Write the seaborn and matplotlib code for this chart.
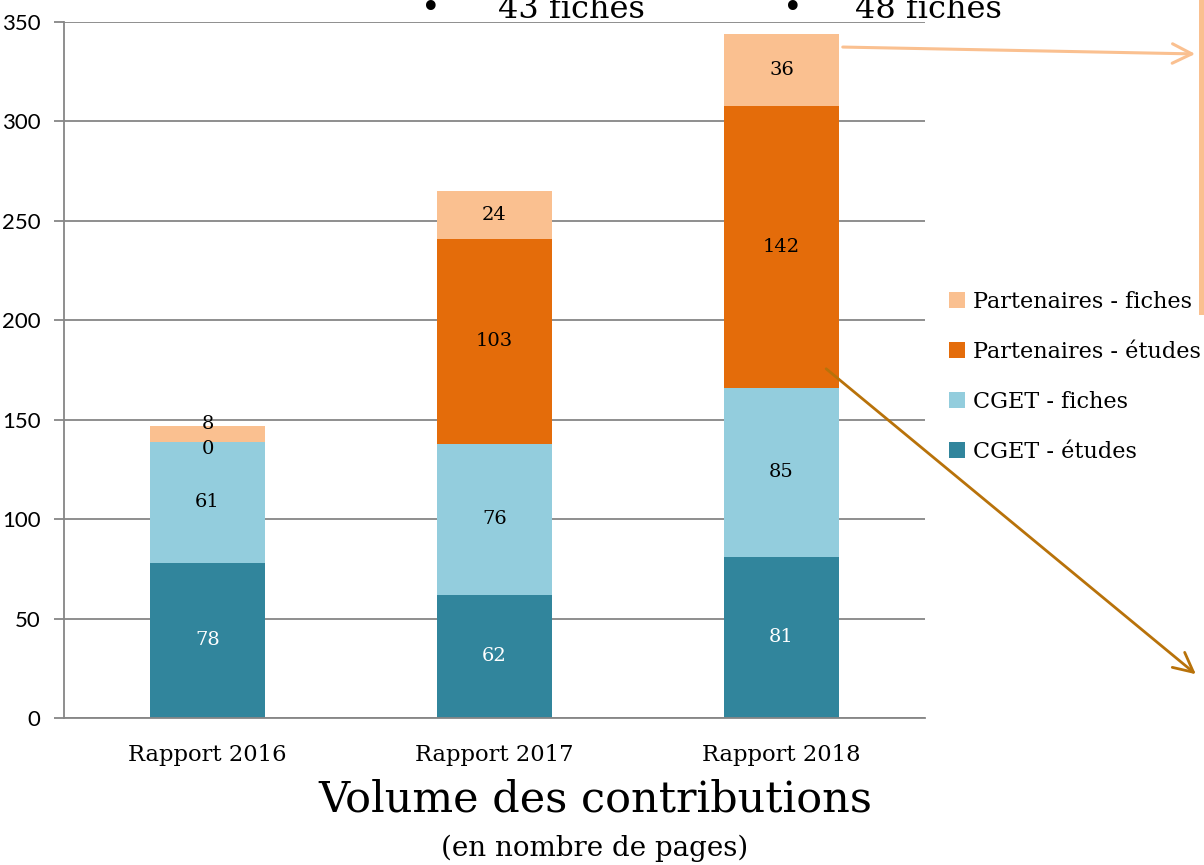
import matplotlib
matplotlib.use("Agg")
import matplotlib.pyplot as plt
import seaborn as sns
import pandas as pd
import numpy as np
from matplotlib.patches import Patch, FancyArrowPatch, Rectangle

categories = ["Rapport 2016", "Rapport 2017", "Rapport 2018"]
series_names = ["CGET - études", "CGET - fiches", "Partenaires - études", "Partenaires - fiches"]
cget_etudes = [78, 62, 81]
cget_fiches = [61, 76, 85]
part_etudes = [0, 103, 142]
part_fiches = [8, 24, 36]
colors = ["#31859C", "#93CDDD", "#E46C0A", "#FAC090"]
label_colors = ["white", "black", "black", "black"]
yticks = [0, 50, 100, 150, 200, 250, 300, 350]

sns.set_theme(style="white")
SERIF = ["DejaVu Serif", "Liberation Serif"]
SANS = ["Lato", "DejaVu Sans"]
plt.rcParams["font.family"] = SERIF
plt.rcParams["text.color"] = "black"
plt.rcParams["xtick.color"] = "black"
plt.rcParams["ytick.color"] = "black"

W, H = 1204, 865
fig = plt.figure(figsize=(W / 100, H / 100), dpi=100)
ax = fig.add_axes([64 / W, (H - 718) / H, 861 / W, 696 / H])

values = [cget_etudes, cget_fiches, part_etudes, part_fiches]
bottom = np.zeros(len(categories))
for name, vals, col, lc in zip(series_names, values, colors, label_colors):
    df = pd.DataFrame({"cat": categories, "val": vals})
    sns.barplot(data=df, x="cat", y="val", ax=ax, color=col, width=0.4,
                bottom=bottom, saturation=1, edgecolor="none", linewidth=0)
    for i, v in enumerate(vals):
        yc = bottom[i] + v / 2
        dy = 0
        if name == "Partenaires - fiches" and v < 10:
            dy = 7
        if name == "Partenaires - études" and v < 10:
            dy = -5
        ax.annotate(str(v), (i, yc), xytext=(0, dy), textcoords="offset points",
                    ha="center", va="center", fontsize=14, color=lc,
                    family=SERIF)
    bottom = bottom + np.array(vals)

ax.set_ylim(0, 350)
ax.set_xlim(-0.5, 2.5)
ax.set_yticks(yticks)
ax.set_yticklabels([str(t) for t in yticks], family=SANS, fontsize=16, color="black")
ax.set_xticks(range(len(categories)))
ax.set_xticklabels(categories, family=SERIF, fontsize=16.3, color="black")
ax.set_xticks([-0.5, 0.5, 1.5, 2.5], minor=True)
ax.tick_params(axis="x", which="major", length=0, pad=19)
ax.tick_params(axis="x", which="minor", length=7, color="#868686", width=1.3, direction="out")
ax.tick_params(axis="y", length=7, color="#868686", width=1.3, direction="out", pad=10)
ax.tick_params(axis="y", left=True)
ax.set_xlabel("")
ax.set_ylabel("")
ax.grid(axis="y", color="#868686", linewidth=1.3)
ax.set_axisbelow(True)
for s in ["top", "right"]:
    ax.spines[s].set_visible(False)
for s in ["left", "bottom"]:
    ax.spines[s].set_color("#868686")
    ax.spines[s].set_linewidth(1.3)

# legend
handles = [Patch(facecolor=c, edgecolor="none", label=n) for n, c in zip(series_names, colors)][::-1]
fig.legend(handles=handles, loc="upper left", bbox_to_anchor=(929 / W, (H - 271) / H),
           frameon=False, handlelength=0.72, handleheight=0.72,
           handletextpad=0.35, labelspacing=1.25, prop={"family": SERIF, "size": 16.1},
           labelcolor="black")

# titles
fig.text(595 / W, (H - 800) / H, "Volume des contributions", ha="center", va="center",
         fontsize=31, family=SERIF, color="black")
fig.text(595 / W, (H - 848) / H, "(en nombre de pages)", ha="center", va="center",
         fontsize=20, family=SERIF, color="black")

# top bullet texts (cut off)
for bx, tx, txt in [(431, 498, "43 fiches"), (793, 855, "48 fiches")]:
    fig.text(bx / W, (H - 18) / H, "•", ha="center", va="baseline", fontsize=24,
             family=SERIF, color="black")
    fig.text(tx / W, (H - 18) / H, txt, ha="left", va="baseline", fontsize=23,
             family=SERIF, color="black")

# arrows
fig.add_artist(FancyArrowPatch((840, H - 47), (1198, H - 54), transform=None,
                               arrowstyle="->,head_length=14,head_width=7",
                               color="#FAC090", linewidth=2.2, mutation_scale=1))
fig.add_artist(FancyArrowPatch((824, H - 367), (1198, H - 676), transform=None,
                               arrowstyle="->,head_length=14,head_width=7",
                               color="#B8720A", linewidth=2, mutation_scale=1))
fig.add_artist(Rectangle((1199, H - 315), 8, 315, transform=None,
                         facecolor="#FAC090", edgecolor="none"))

fig.savefig("out.png", dpi=100)
